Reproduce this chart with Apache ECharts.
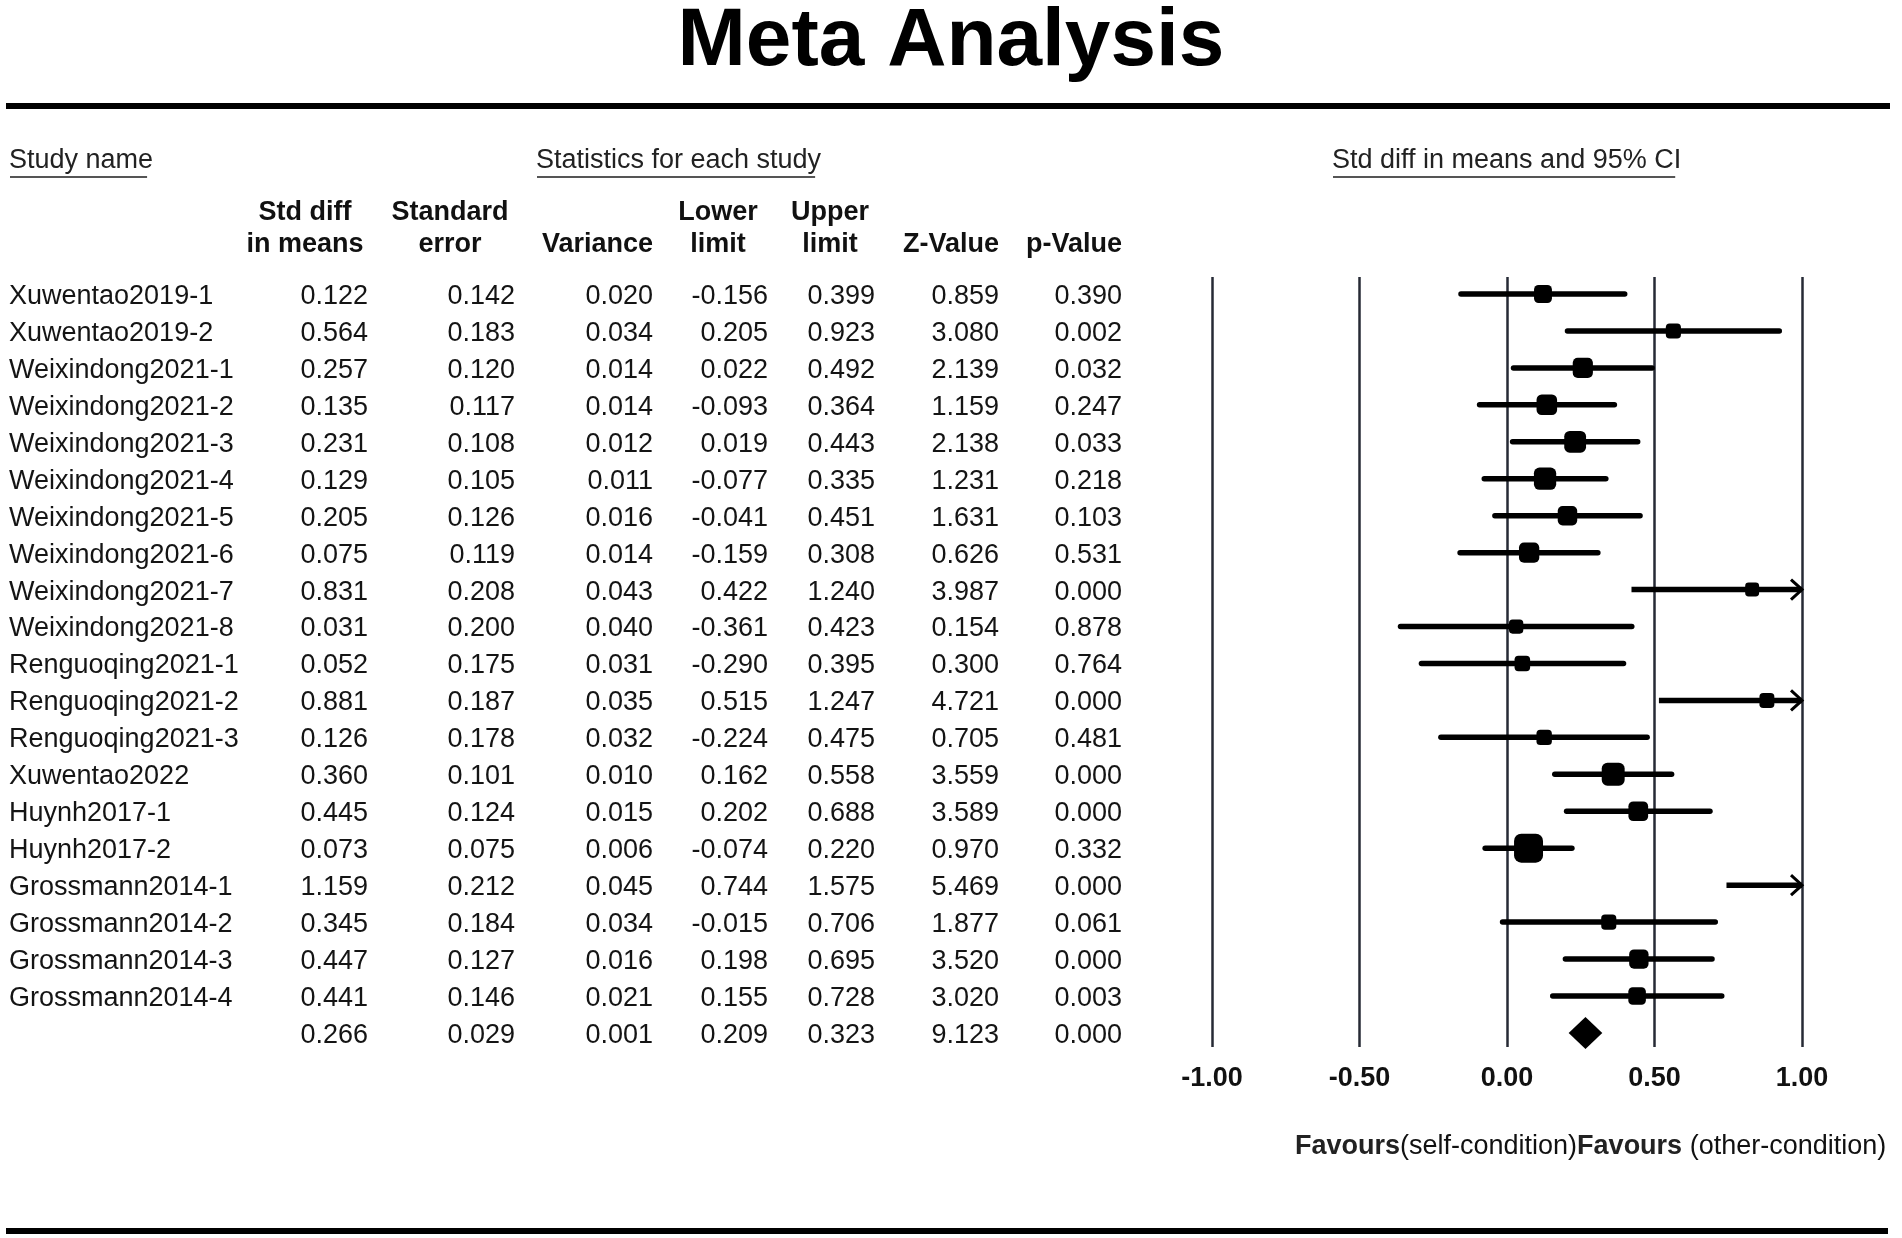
<!DOCTYPE html>
<html><head><meta charset="utf-8">
<script src="https://cdn.jsdelivr.net/npm/echarts@6/dist/echarts.min.js"></script>
<style>html,body{margin:0;padding:0;background:#fff}#c{width:1902px;height:1238px}</style>
</head><body><div id="c"></div>
<script>
// ---------- data ----------
const studyNames = ["Xuwentao2019-1","Xuwentao2019-2","Weixindong2021-1","Weixindong2021-2","Weixindong2021-3","Weixindong2021-4","Weixindong2021-5","Weixindong2021-6","Weixindong2021-7","Weixindong2021-8","Renguoqing2021-1","Renguoqing2021-2","Renguoqing2021-3","Xuwentao2022","Huynh2017-1","Huynh2017-2","Grossmann2014-1","Grossmann2014-2","Grossmann2014-3","Grossmann2014-4"];
const stdDiff   = [0.122,0.564,0.257,0.135,0.231,0.129,0.205,0.075,0.831,0.031,0.052,0.881,0.126,0.360,0.445,0.073,1.159,0.345,0.447,0.441];
const stdError  = [0.142,0.183,0.120,0.117,0.108,0.105,0.126,0.119,0.208,0.200,0.175,0.187,0.178,0.101,0.124,0.075,0.212,0.184,0.127,0.146];
const variance  = [0.020,0.034,0.014,0.014,0.012,0.011,0.016,0.014,0.043,0.040,0.031,0.035,0.032,0.010,0.015,0.006,0.045,0.034,0.016,0.021];
const lowerLim  = [-0.156,0.205,0.022,-0.093,0.019,-0.077,-0.041,-0.159,0.422,-0.361,-0.290,0.515,-0.224,0.162,0.202,-0.074,0.744,-0.015,0.198,0.155];
const upperLim  = [0.399,0.923,0.492,0.364,0.443,0.335,0.451,0.308,1.240,0.423,0.395,1.247,0.475,0.558,0.688,0.220,1.575,0.706,0.695,0.728];
const zValue    = [0.859,3.080,2.139,1.159,2.138,1.231,1.631,0.626,3.987,0.154,0.300,4.721,0.705,3.559,3.589,0.970,5.469,1.877,3.520,3.020];
const pValue    = [0.390,0.002,0.032,0.247,0.033,0.218,0.103,0.531,0.000,0.878,0.764,0.000,0.481,0.000,0.000,0.332,0.000,0.061,0.000,0.003];
// summary row: std diff, SE, variance, lower, upper, Z, p
const summaryStats = [0.266,0.029,0.001,0.209,0.323,9.123,0.000];
const xTicks = [-1.00,-0.50,0.00,0.50,1.00];
const headerLine1 = ["Std diff","Standard","","Lower","Upper","",""];
const headerLine2 = ["in means","error","Variance","limit","limit","Z-Value","p-Value"];
const sectionTitles = ["Study name","Statistics for each study","Std diff in means and 95% CI"];
const favoursText = ["Favours","(self-condition)","Favours"," (other-condition)"];

// ---------- chart ----------
const FONT = '"Liberation Sans", Arial, Helvetica, sans-serif';
const chart = echarts.init(document.getElementById('c'), null, {renderer:'canvas'});
const nRows = studyNames.length; // summary at index nRows

const ciData = stdDiff.map((v,i)=>[lowerLim[i], upperLim[i], i]);
const pointData = stdDiff.map((v,i)=>[v, i, stdError[i]]);
const diamondData = [[summaryStats[3], summaryStats[0], summaryStats[4], nRows]];

chart.setOption({
  backgroundColor:'#fff',
  animation:false,
  title:{text:'Meta Analysis', left:'center', top:1, padding:0,
    textStyle:{fontFamily:FONT, fontSize:82, fontWeight:'bold', color:'#000'}},
  grid:{left:1212, right:100, top:277, bottom:191},
  xAxis:{type:'value', min:xTicks[0], max:xTicks[xTicks.length-1], interval:0.5,
    axisLine:{show:false}, axisTick:{show:false},
    axisLabel:{margin:18, fontFamily:FONT, fontSize:27, fontWeight:'bold', color:'#111',
      formatter:v=>v.toFixed(2)},
    splitLine:{show:true, lineStyle:{color:'#262a35', width:2.5}}},
  yAxis:{type:'value', inverse:true, min:-0.46, max:nRows+0.38, show:false},
  series:[
    {type:'custom', data:ciData, encode:{x:[0,1], y:2}, clip:false,
      renderItem:function(params, api){
        const lo = api.value(0), hi = api.value(1), row = api.value(2);
        const p1 = api.coord([Math.max(lo,-1), row]);
        const p2 = api.coord([Math.min(hi,1), row]);
        const ch = [{type:'line', shape:{x1:p1[0],y1:p1[1],x2:p2[0],y2:p2[1]},
          style:{stroke:'#000', lineWidth:5.5, lineCap: hi>1 ? 'butt':'round'}}];
        if (hi > 1) ch.push({type:'polyline',
          shape:{points:[[p2[0]-11,p2[1]-10],[p2[0],p2[1]],[p2[0]-11,p2[1]+10]]},
          style:{stroke:'#000', fill:null, lineWidth:3}});
        return {type:'group', children:ch};
      }},
    {type:'scatter', data:pointData, clip:true, symbol:'roundRect',
      symbolSize:function(val){ return 5.5 + 1.76/val[2]; },
      itemStyle:{color:'#000', opacity:1}},
    {type:'custom', data:diamondData, encode:{x:[0,1,2], y:3},
      renderItem:function(params, api){
        const row = api.value(3);
        const l = api.coord([api.value(0), row]);
        const m = api.coord([api.value(1), row]);
        const r = api.coord([api.value(2), row]);
        return {type:'polygon', shape:{points:[[l[0],l[1]],[m[0],m[1]-16],[r[0],r[1]],[m[0],m[1]+16]]},
          style:{fill:'#000'}};
      }}
  ]
});

// ---------- table as graphic text ----------
const measureCtx = document.createElement('canvas').getContext('2d');
function textWidth(t, font){ measureCtx.font = font; return measureCtx.measureText(t).width; }
const TY = 2.5; // visual baseline correction for text
const rowY = i => chart.convertToPixel({yAxisIndex:0}, i) + TY;

const colRight = [368,515,653,768,875,999,1122];
const headerX = [305,450,653,718,830,999,1122];
const headerAlign = ['center','center','right','center','center','right','right'];
const g = [];
function txt(t, x, y, align, weight, size, color){
  g.push({type:'text', x:x, y:y, silent:true, style:{text:t, align:align, verticalAlign:'middle',
    font:(weight||'normal')+' '+(size||27)+'px '+FONT, fill:color||'#141414'}});
}
// rules
g.push({type:'line', shape:{x1:6,y1:106,x2:1890,y2:106}, style:{stroke:'#000', lineWidth:6}});
g.push({type:'line', shape:{x1:6,y1:1231,x2:1888,y2:1231}, style:{stroke:'#000', lineWidth:6}});
// section titles with underline
const secX = [9,536,1332];
sectionTitles.forEach((t,k)=>{
  txt(t, secX[k], 161, 'left', 'normal', 27, '#222');
  const w = textWidth(t, 'normal 27px '+FONT);
  g.push({type:'line', shape:{x1:secX[k]+1, y1:177, x2:secX[k]+w-6, y2:177}, style:{stroke:'#555', lineWidth:2}});
});
// headers
headerLine1.forEach((t,k)=>{ if (t) txt(t, headerX[k], 213, headerAlign[k], 'bold', 27, '#111'); });
headerLine2.forEach((t,k)=>{ txt(t, headerX[k], 245, headerAlign[k], 'bold', 27, '#111'); });
// rows
const cols = [stdDiff, stdError, variance, lowerLim, upperLim, zValue, pValue];
for (let i=0;i<nRows;i++){
  const y = rowY(i);
  txt(studyNames[i], 9, y, 'left');
  cols.forEach((arr,k)=>txt(arr[i].toFixed(3), colRight[k], y, 'right'));
}
const ys = rowY(nRows);
summaryStats.forEach((v,k)=>txt(v.toFixed(3), colRight[k], ys, 'right'));
// favours caption
g.push({type:'text', x:1295, y:1147, silent:true, style:{
  text:'{b|'+favoursText[0]+'}{r|'+favoursText[1]+'}{b|'+favoursText[2]+'}{r|'+favoursText[3]+'}',
  verticalAlign:'middle', align:'left',
  rich:{b:{font:'bold 27px '+FONT, fill:'#222'}, r:{font:'normal 27px '+FONT, fill:'#111'}}}});

chart.setOption({graphic:g});
</script></body></html>
